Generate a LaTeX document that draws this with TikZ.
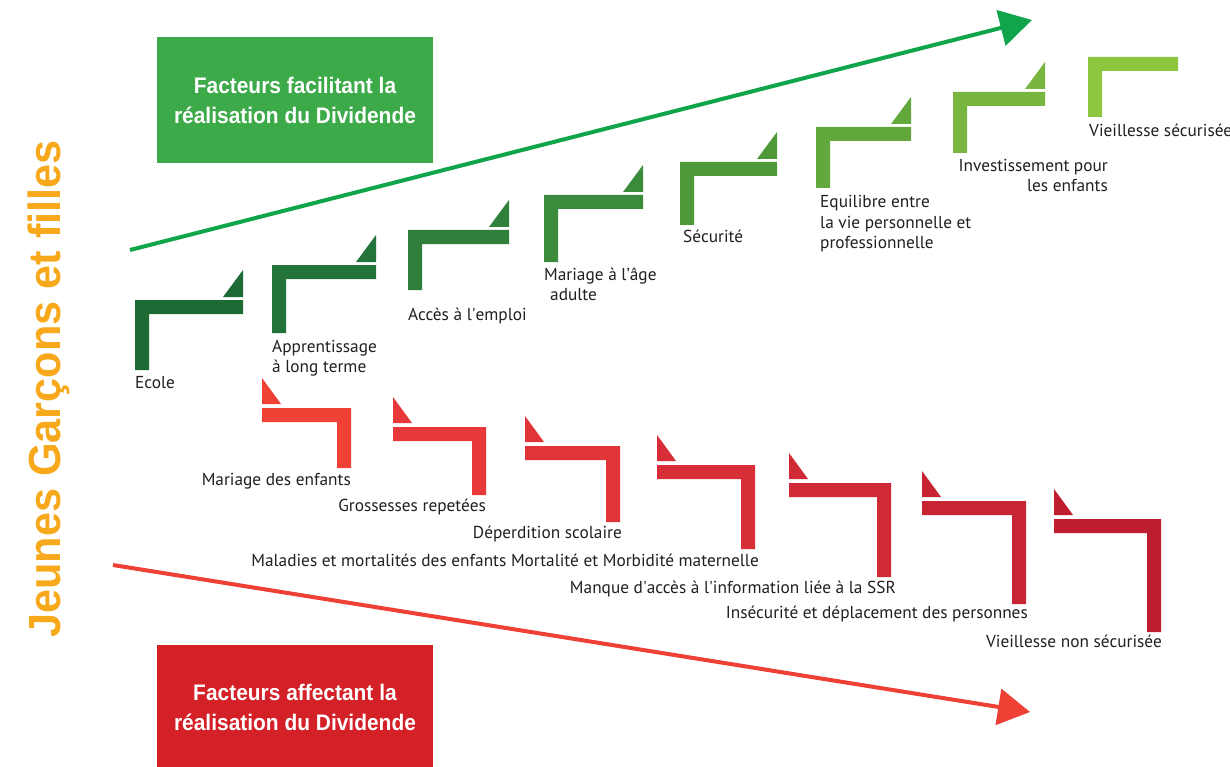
\documentclass[tikz,border=0pt]{standalone}
\usepackage{fontspec}
\setmainfont{PT Sans}
\newfontfamily\condfont[FakeStretch=0.93]{Liberation Sans}
\newfontfamily\titlefont[FakeStretch=0.96]{Liberation Sans}
\usetikzlibrary{arrows.meta}
\definecolor{g1}{HTML}{1D6A35}
\definecolor{g2}{HTML}{24733A}
\definecolor{g3}{HTML}{307F3B}
\definecolor{g4}{HTML}{3C8A3B}
\definecolor{g5}{HTML}{4F993A}
\definecolor{g6}{HTML}{62A83C}
\definecolor{g7}{HTML}{78B63F}
\definecolor{g8}{HTML}{8DC63F}
\definecolor{r1}{HTML}{EF4136}
\definecolor{r2}{HTML}{E8393A}
\definecolor{r3}{HTML}{E03439}
\definecolor{r4}{HTML}{D72E38}
\definecolor{r5}{HTML}{CF2A36}
\definecolor{r6}{HTML}{C72533}
\definecolor{r7}{HTML}{BE1E2D}
\definecolor{boxgreen}{HTML}{3DAA4A}
\definecolor{boxred}{HTML}{D42027}
\definecolor{arrgreen}{HTML}{10A54A}
\definecolor{arrred}{HTML}{EE4035}
\definecolor{orangetxt}{HTML}{F7A81B}
\definecolor{labelgray}{HTML}{231F20}
\tikzset{
  lbl/.style={font=\fontsize{17.3}{20}\selectfont, text=labelgray, inner sep=0pt},
  factbox/.style={minimum width=276pt, inner sep=0pt, align=center, text=white,
    font=\condfont\bfseries\fontsize{22.5}{30}\selectfont},
  bigarrow/.style={line width=4pt, -{Triangle[length=32pt,width=36pt]}}
}
\begin{document}
\begin{tikzpicture}[x=1pt,y=-1pt]
\useasboundingbox (0,0) rectangle (1230,767);
\fill[white] (0,0) rectangle (1230,767);
% green steps
\foreach \x/\y/\w/\h/\c in {135/300/108/70/g1, 272/265/104/68/g2, 408/230/101/60/g3,
  544/195/99/67/g4, 680/162/97/63/g5, 816/127/95/61/g6, 953/92/92/61/g7, 1088/57/90/60/g8}{
  \fill[\c] (\x,\y) -- (\x+\w,\y) -- (\x+\w,\y+14) -- (\x+14,\y+14) -- (\x+14,\y+\h) -- (\x,\y+\h) -- cycle;
}
\foreach \x/\y/\w/\c in {135/300/108/g1, 272/265/104/g2, 408/230/101/g3,
  544/195/99/g4, 680/162/97/g5, 816/127/95/g6, 953/92/92/g7}{
  \fill[\c] (\x+\w-20,\y-3) -- (\x+\w,\y-3) -- (\x+\w,\y-30) -- cycle;
}
% red steps
\foreach \x/\y/\w/\h/\c in {262/408/89/60/r1, 393/427/93/68/r2, 525/446/95/76/r3,
  657/465/98/84/r4, 789/483/102/94/r5, 922/501/104/103/r6, 1054/519/107/113/r7}{
  \fill[\c] (\x,\y) -- (\x+\w,\y) -- (\x+\w,\y+\h) -- (\x+\w-14,\y+\h) -- (\x+\w-14,\y+14) -- (\x,\y+14) -- cycle;
  \fill[\c] (\x,\y-4) -- (\x+19,\y-4) -- (\x,\y-30) -- cycle;
}
% boxes
\node[factbox, fill=boxgreen, minimum height=126pt] (good) at (295,100)
  {Facteurs facilitant la\\réalisation du Dividende};
\node[factbox, fill=boxred, minimum height=124pt] (bad) at (295,707)
  {Facteurs affectant la\\réalisation du Dividende};
% vertical title
\node[rotate=90, text=orangetxt, inner sep=0pt,
  font=\titlefont\bfseries\fontsize{45}{45}\selectfont] (title) at (49,389) {Jeunes Garçons et filles};
% arrows
\coordinate (gs) at (130,250);
\coordinate (ge) at (1032,20);
\coordinate (rs) at (113,565);
\coordinate (re) at (1030,712);
\draw[bigarrow, arrgreen] (gs) -- (ge);
\draw[bigarrow, arrred] (rs) -- (re);
% green labels (base anchor = baseline of the last line)
\node[lbl, anchor=base west] (l1) at (135,388) {Ecole};
\node[lbl, anchor=base west, align=left] (l2) at (272,372) {Apprentissage\\à long terme};
\node[lbl, anchor=base west] (l3) at (408,320) {Accès à l\textquotesingle emploi};
\node[lbl, anchor=base west, align=left] (l4) at (544,300) {Mariage à l’âge\\\hspace*{6pt}adulte};
\node[lbl, anchor=base west] (l5) at (683,243) {Sécurité};
\node[lbl, anchor=base west, align=left] (l6) at (820,248) {Equilibre entre\\la vie personnelle et\\professionnelle};
\node[lbl, anchor=base east, align=right] (l7) at (1108,192) {Investissement pour\\les enfants};
\node[lbl, anchor=base west] (l8) at (1089,137) {Vieillesse sécurisée};
% red labels
\node[lbl, anchor=base east] (m1) at (351,485) {Mariage des enfants};
\node[lbl, anchor=base east] (m2) at (486,511) {Grossesses repetées};
\node[lbl, anchor=base east] (m3) at (622,538) {Déperdition scolaire};
\node[lbl, anchor=base east] (m4) at (759,566) {Maladies et mortalités des enfants Mortalité et Morbidité maternelle};
\node[lbl, anchor=base east] (m5) at (896,593) {Manque d\textquotesingle accès à l\textquotesingle information liée à la SSR};
\node[lbl, anchor=base east] (m6) at (1028,618) {Insécurité et déplacement des personnes};
\node[lbl, anchor=base east] (m7) at (1162,647) {Vieillesse non sécurisée};
\end{tikzpicture}
\end{document}
